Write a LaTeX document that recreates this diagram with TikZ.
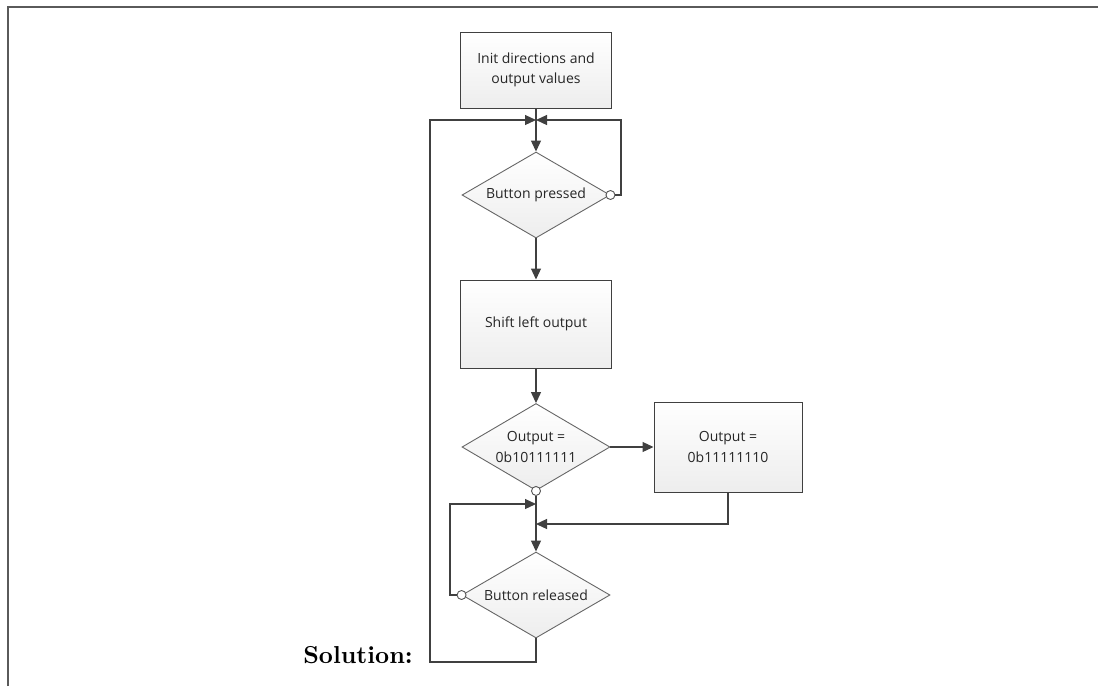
\documentclass[tikz,border=0pt]{standalone}
\usepackage{fontspec}
\newfontfamily\chartfont{Open Sans}
\newfontfamily\solfont{lmroman10-bold}[Extension=.otf]
\usetikzlibrary{shapes.geometric,arrows.meta}
\definecolor{linegray}{HTML}{404040}
\definecolor{framegray}{HTML}{5A5A5A}
\begin{document}
\begin{tikzpicture}[x=1pt,y=-1pt]
		\useasboundingbox (0,0) rectangle (1098,686);
		\draw[framegray, line width=2pt] (8,686) -- (8,7) -- (1098,7);
		\begin{scope}
		\tikzstyle{every node}=[align=center, inner sep=1pt, font=\chartfont\fontsize{14}{20.5}\selectfont, text=black!85]
		\tikzstyle{proc}=[draw=linegray, line width=1pt, top color=white, bottom color=black!7, rectangle, inner sep=0pt]
		\tikzstyle{test}=[draw=linegray!80, line width=0.9pt, top color=white, bottom color=black!7, diamond, aspect=1.72, minimum width=148pt, minimum height=86pt, inner sep=0pt]
		\tikzstyle{exit}=[draw=linegray!90, line width=0.9pt, fill=white, circle, minimum size=9pt, inner sep=0pt]
		\tikzstyle{flow}=[linegray, line width=1.2pt, -{Triangle[length=11pt,width=10pt]}]
		\tikzstyle{wire}=[linegray, line width=1.2pt]
				\node[proc, minimum width=151pt, minimum height=76pt] (IN) at (536, 70) {Init directions and\\output values};
				\node[test] (BP) at (536, 195) {Button pressed};
				\node[proc, minimum width=151pt, minimum height=88pt] (SH) at (536, 324) {Shift left output};
				\node[test, minimum height=87pt] (OT) at (536, 447) {Output =\\0b10111111};
				\node[proc, minimum width=148pt, minimum height=90pt] (OS) at (728, 447) {Output =\\0b11111110};
				\node[test] (BR) at (536, 595) {Button released};
				\node[exit] (BPx) at (BP.east) {};
				\node[exit] (OTx) at (OT.south) {};
				\node[exit] (BRx) at (BR.west) {};
				\node[font=\solfont\fontsize{24.5}{28}\selectfont, text=black, inner sep=0pt, anchor=base east] (SOL) at (413, 663) {Solution:};
				\coordinate (J1) at (536, 120);
				\coordinate (RT) at (621, 120);
				\coordinate (LB) at (430, 662);
				\coordinate (LT) at (430, 120);
				\coordinate (J2) at (536, 504);
				\coordinate (J3) at (536, 524);
				\coordinate (LL) at (450, 504);

				\draw[wire]  (IN) -- (J1);
				\draw[flow]  (J1) -- (BP);
				\draw[flow]  (BPx) -| (RT) -- (J1);
				\draw[flow]  (BR) |- (LB) -- (LT) -- (J1);
				\draw[flow]  (BP) -- (SH);
				\draw[flow]  (SH) -- (OT);
				\draw[flow]  (OT) -- (OS);
				\draw[flow]  (OS) |- (J3);
				\draw[flow]  (OTx) -- (BR);
				\draw[flow]  (BRx) -| (LL) -- (J2);
		\end{scope}
\end{tikzpicture}
\end{document}
